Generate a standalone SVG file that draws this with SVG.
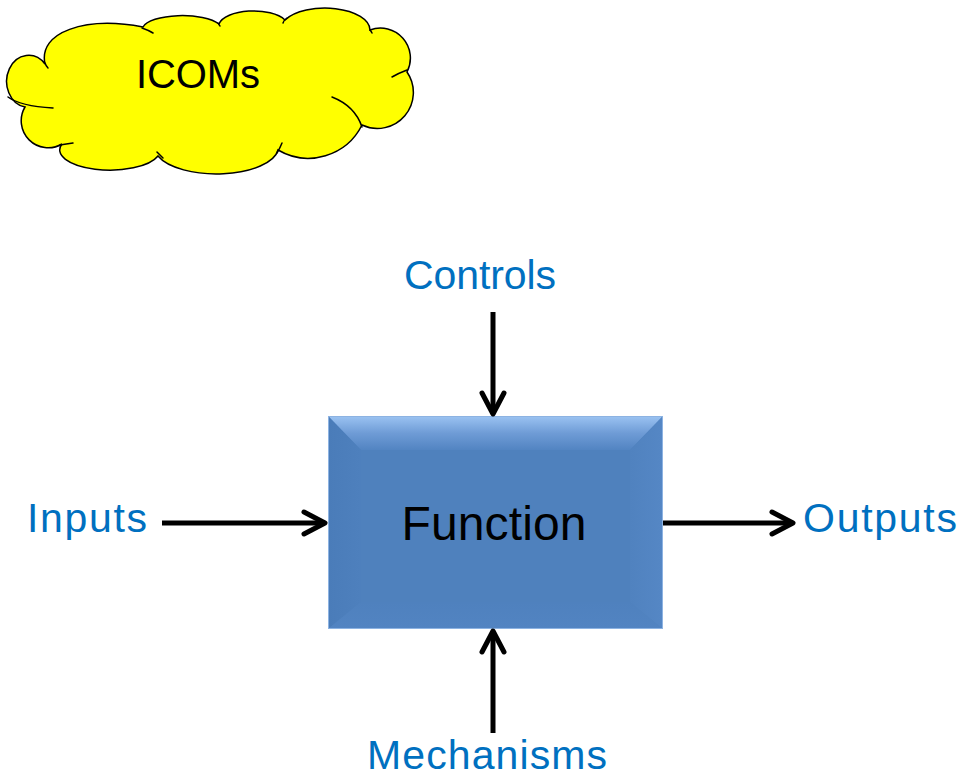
<svg xmlns="http://www.w3.org/2000/svg" width="962" height="778" viewBox="0 0 962 778">
  <style>
    .lbl { font-family: "Liberation Sans", Arial, sans-serif; font-size: 41px; fill: #0070C0; text-anchor: middle; }
    .blk { font-family: "Liberation Sans", Arial, sans-serif; fill: #000; text-anchor: middle; }
    .conn { fill: none; stroke: #000; stroke-width: 5; marker-end: url(#chev); }
    .inner { fill: none; stroke: #000; stroke-width: 1.5; stroke-linecap: round; }
  </style>
  <defs>
    <marker id="chev" markerUnits="userSpaceOnUse" orient="auto" refX="0" refY="0" markerWidth="40" markerHeight="40" viewBox="-30 -20 40 40" overflow="visible">
      <path d="M -21 -11 L 0 0 L -21 11" fill="none" stroke="#000" stroke-width="5" stroke-linecap="round" stroke-linejoin="round"/>
    </marker>
    <linearGradient id="topBevel" x1="0" y1="0" x2="0" y2="1">
      <stop offset="0" stop-color="#9BC3F2"/>
      <stop offset="0.5" stop-color="#6F9CD6"/>
      <stop offset="1" stop-color="#5284C2"/>
    </linearGradient>
    <linearGradient id="leftBevel" x1="0" y1="0" x2="1" y2="0">
      <stop offset="0" stop-color="#4A7CB9"/>
      <stop offset="1" stop-color="#4E80BD"/>
    </linearGradient>
    <linearGradient id="rightBevel" x1="0" y1="0" x2="1" y2="0">
      <stop offset="0" stop-color="#5082BF"/>
      <stop offset="1" stop-color="#5587C5"/>
    </linearGradient>
    <linearGradient id="botBevel" x1="0" y1="0" x2="0" y2="1">
      <stop offset="0" stop-color="#4F81BE"/>
      <stop offset="1" stop-color="#5284C2"/>
    </linearGradient>
  </defs>

  <g id="icoms">
    <path d="M 25 107 A 22 26 0 1 1 45 64 C 38 32 85 16 143 27 A 40 14 0 0 1 219 24 A 35 16 0 0 1 285 20 A 45 22 0 0 1 370 30 A 30 30 0 0 1 407 72 A 36 36 0 0 1 362 125 A 60 60 0 0 1 278 150 A 62 27 0 0 1 158 156 A 50 20 0 0 1 62 144 A 27 27 0 0 1 25 107 Z" fill="#FFFF00" stroke="#000" stroke-width="1.5"/>
    <path class="inner" d="M 45 63 Q 46 66 48 68"/>
    <path class="inner" d="M 142 28 Q 148 30 153 33"/>
    <path class="inner" d="M 218 23 Q 219 25 220 26"/>
    <path class="inner" d="M 283 23 Q 284 20 287 18"/>
    <path class="inner" d="M 370 30 Q 371 31 372 33"/>
    <path class="inner" d="M 392 77 Q 399 73 407 70"/>
    <path class="inner" d="M 332 97 Q 355 106 362 127"/>
    <path class="inner" d="M 282 143 Q 280 148 277 153"/>
    <path class="inner" d="M 157 152 Q 160 155 163 158"/>
    <path class="inner" d="M 73 143 Q 66 144 60 145"/>
    <path class="inner" d="M 8 97 Q 20 106 53 108"/>
    <text class="blk" x="198" y="88" font-size="40" textLength="124">ICOMs</text>
  </g>

  <g id="function">
    <rect x="328" y="416" width="335" height="213" fill="#4F81BD"/>
    <polygon points="328,416 663,416 630,450 361,450" fill="url(#topBevel)"/>
    <polygon points="328,416 361,450 361,602 328,629" fill="url(#leftBevel)"/>
    <polygon points="663,416 663,629 630,602 630,450" fill="url(#rightBevel)"/>
    <polygon points="328,629 361,602 630,602 663,629" fill="url(#botBevel)"/>
    <rect x="328.5" y="416.5" width="334" height="212" fill="none" stroke="#8DB3E2" stroke-width="1"/>
    <text class="blk" x="494" y="540" font-size="48" textLength="185">Function</text>
  </g>

  <g id="controls"><text class="lbl" x="480" y="289" textLength="152">Controls</text></g>
  <g id="inputs"><text class="lbl" x="87" y="532" textLength="120">Inputs</text></g>
  <g id="outputs"><text class="lbl" x="880" y="532" textLength="154">Outputs</text></g>
  <g id="mechanisms"><text class="lbl" x="487" y="769" textLength="240">Mechanisms</text></g>

  <g id="connectors">
    <path class="conn" d="M 162 523 L 325 523"/>
    <path class="conn" d="M 663 523 L 793 523"/>
    <path class="conn" d="M 493 312 L 493 414"/>
    <path class="conn" d="M 493 733 L 493 631"/>
  </g>
</svg>
